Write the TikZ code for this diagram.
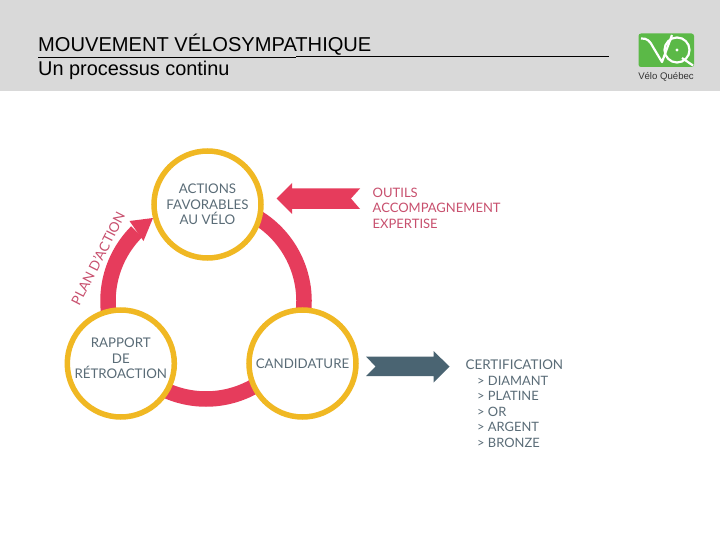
\documentclass[tikz,border=0pt]{standalone}
\usepackage{fontspec}
\setmainfont{Lato}
\newfontfamily\headfont{Liberation Sans}
\definecolor{headbg}{HTML}{D9D9D9}
\definecolor{ringred}{HTML}{E63C5C}
\definecolor{ringyel}{HTML}{F0B823}
\definecolor{slate}{HTML}{4A6472}
\definecolor{txtgrey}{HTML}{5A6C77}
\definecolor{txtred}{HTML}{C8506E}
\definecolor{vqgreen}{HTML}{5BB947}
\tikzset{
  x=1pt,y=-1pt,
  stage/.style={circle,draw=ringyel,line width=5.5pt,fill=white,minimum size=107pt,inner sep=0pt,
    align=center,text=txtgrey,font=\fontsize{13.3}{15.4}\selectfont},
  band/.style={draw=ringred,line width=15.5pt},
  redtxt/.style={text=txtred,font=\fontsize{13}{15.6}\selectfont,align=left,anchor=north west,inner sep=0pt},
  greytxt/.style={text=txtgrey,font=\fontsize{13.4}{15.4}\selectfont,align=left,anchor=north west,inner sep=0pt},
  headtxt/.style={text=black,anchor=base west,inner sep=0pt,font=\headfont\fontsize{20.1}{22}\selectfont},
}
\begin{document}
\begin{tikzpicture}
\useasboundingbox (0,0) rectangle (720,540);
\fill[white] (0,0) rectangle (720,540);
\fill[headbg] (0,0) rectangle (720,91);
% header
\node[headtxt] (title) at (38,51.5) {MOUVEMENT VÉLOSYMPATHIQUE};
\node[headtxt,font=\headfont\fontsize{19.9}{22}\selectfont] (sub) at (38,75.5) {Un processus continu};
\coordinate (ruleA) at (38,57);
\coordinate (ruleB) at (296,57);
\coordinate (ruleC) at (296,56);
\coordinate (ruleD) at (609,56);
\draw[black,line width=0.9pt] (ruleA) -- (ruleB);
\draw[black,line width=0.9pt] (ruleC) -- (ruleD);
% logo
\fill[vqgreen,rounded corners=2.5pt] (638.5,33.5) rectangle (694,67);
\draw[white,line width=2.2pt,line join=round] (641,38.5) .. controls (647,38) and (650,41) .. (653,47) -- (662,62) -- (672,35);
\draw[white,line width=2.2pt] (677,50) circle (12.5);
\fill[white] (677,50) circle (1.7);
\draw[white,line width=2.2pt] (682,58) -- (693,65.5);
\node[inner sep=0pt,text=black!80,font=\headfont\fontsize{9.6}{10}\selectfont] (vq) at (666,76.5) {Vélo Québec};
% ring (y axis points down, so angles are given mirrored)
\coordinate (hub) at (206,301);
\draw[band] (hub) ++(-65:98) arc[start angle=-65,end angle=12,radius=98];
\draw[band] (hub) ++(60:98) arc[start angle=60,end angle=120,radius=98];
\draw[band] (hub) ++(168:98) arc[start angle=168,end angle=225,radius=98];
\coordinate (headA) at (129.5,221);
\coordinate (headB) at (143.5,241);
\coordinate (headT) at (153,218);
\fill[ringred] (headA) -- (headT) -- (headB) -- cycle;
% stages
\node[stage] (act) at (207.5,204.5) {ACTIONS\\FAVORABLES\\AU VÉLO};
\node[stage] (rap) at (120.8,363.5) {RAPPORT\\DE\\RÉTROACTION\\[-5pt]\mbox{}};
\node[stage] (can) at (302.5,363.5) {CANDIDATURE};
% plan d'action
\node[inner sep=0pt,text=txtred,rotate=63,font=\fontsize{13.6}{15}\selectfont] (plan) at (98,258.5) {PLAN D’ACTION};
% tools arrow
\coordinate (ta) at (276.5,198.5);
\fill[ringred] (ta) -- (292,183) -- (292,188.5) -- (360,188.5) -- (351,198.5) -- (360,209) -- (292,209) -- (292,214) -- cycle;
\node[redtxt] (tools) at (372.5,187.5) {OUTILS\\ACCOMPAGNEMENT\\EXPERTISE};
% certification arrow
\fill[slate] (449.5,366.5) -- (433.5,351) -- (433.5,356.5) -- (366,356.5) -- (375.5,366.5) -- (366,376) -- (433.5,376) -- (433.5,382.5) -- cycle;
\node[greytxt] (cert) at (465.5,360) {CERTIFICATION};
\node[greytxt,font=\fontsize{12.9}{15.4}\selectfont] (list) at (477,376) {> DIAMANT\\> PLATINE\\> OR\\> ARGENT\\> BRONZE};
\end{tikzpicture}
\end{document}
